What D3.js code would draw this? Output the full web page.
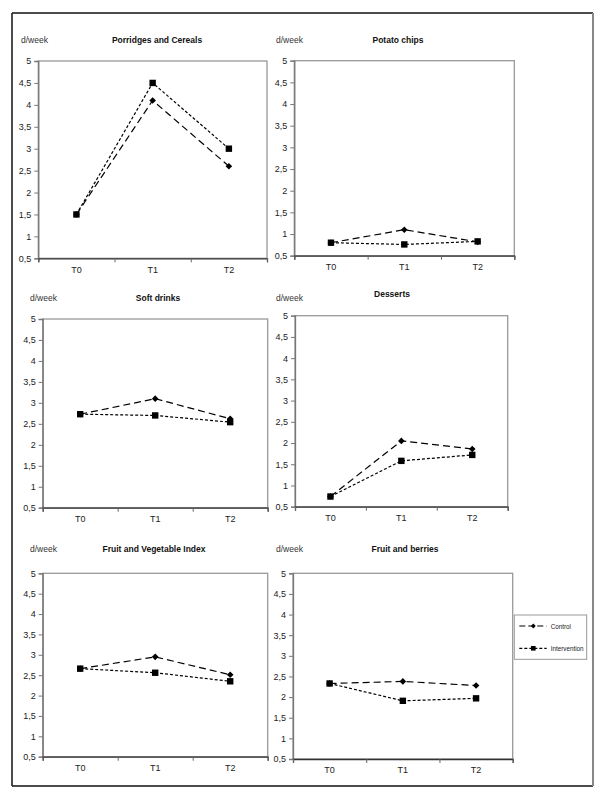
<!DOCTYPE html>
<html><head><meta charset="utf-8">
<script src="https://cdn.jsdelivr.net/npm/d3@7"></script>
<style>body{margin:0;background:#fff;} svg{display:block;font-family:"Liberation Sans",Arial,sans-serif;}</style>
</head><body>
<svg id="chart" width="600" height="800"></svg>
<script>
const titles = ["Porridges and Cereals","Potato chips","Soft drinks","Desserts","Fruit and Vegetable Index","Fruit and berries"];
const times = ["T0","T1","T2"];
const yTicks = [0.5,1,1.5,2,2.5,3,3.5,4,4.5,5];
const control = [
  [1.5,4.1,2.6],
  [0.8,1.1,0.82],
  [2.73,3.1,2.62],
  [0.74,2.05,1.86],
  [2.66,2.95,2.51],
  [2.33,2.38,2.28]
];
const intervention = [
  [1.5,4.5,3.0],
  [0.8,0.76,0.83],
  [2.73,2.7,2.54],
  [0.74,1.58,1.72],
  [2.66,2.56,2.35],
  [2.33,1.91,1.97]
];
const seriesNames = ["Control","Intervention"];

// layout (plot area boxes and label anchors)
const layout = [
  {l:38.3,r:267,t:61,b:258.3,tx:157,ty:43,ux:21,uy:43},
  {l:294.3,r:514.3,t:60.7,b:255.7,tx:398,ty:43,ux:276,uy:43},
  {l:42.7,r:267.7,t:319,b:507.7,tx:158,ty:301,ux:30,uy:301},
  {l:295,r:507.7,t:315.7,b:506.7,tx:392,ty:297,ux:276,uy:301},
  {l:42.7,r:267.7,t:573.3,b:756.7,tx:154,ty:552,ux:30,uy:552},
  {l:293,r:512.7,t:573.3,b:759,tx:405,ty:552,ux:276,uy:552}
];

const svg = d3.select("#chart");
// outer frame
svg.append("line").attr("x1",12).attr("x2",593).attr("y1",13).attr("y2",13).attr("stroke","#111").attr("stroke-width",1.5);
svg.append("line").attr("x1",12).attr("x2",12).attr("y1",13).attr("y2",786).attr("stroke","#111").attr("stroke-width",1.5);
svg.append("line").attr("x1",12).attr("x2",593).attr("y1",786).attr("y2",786).attr("stroke","#111").attr("stroke-width",1.5);
svg.append("line").attr("x1",593).attr("x2",593).attr("y1",13).attr("y2",786).attr("stroke","#888").attr("stroke-width",2);

// symbols: diamond = square rotated 45deg
const diamondPath = r => `M0,${-r}L${r},0L0,${r}L${-r},0Z`;
const squarePath = h => `M${-h},${-h}H${h}V${h}H${-h}Z`;
const styles = [
  {dash:"7,4", sym:diamondPath(3.3)},
  {dash:"3,2", sym:squarePath(3.2)}
];

titles.forEach((title,i)=>{
  const L = layout[i];
  const g = svg.append("g");
  const x = d3.scaleBand().domain(times).range([L.l,L.r]).padding(0);
  const xt = d3.scaleLinear().domain([0,3]).range([L.l,L.r]);
  const y = d3.scaleLinear().domain([0.5,5]).range([L.b,L.t]);

  // plot frame (top/right)
  g.append("rect").attr("x",L.l).attr("y",L.t).attr("width",L.r-L.l).attr("height",L.b-L.t)
    .attr("fill","#fff").attr("stroke","#999").attr("stroke-width",1.3);

  // y axis
  const ya = g.append("g").attr("transform",`translate(${L.l},0)`)
    .call(d3.axisLeft(y).tickValues(yTicks).tickSize(4).tickPadding(3)
      .tickFormat(d=>String(d).replace(".",",")));
  ya.select(".domain").attr("stroke","#777").attr("stroke-width",1.3);
  ya.selectAll(".tick line").attr("stroke","#777");
  ya.selectAll("text").attr("font-size",9).attr("fill","#222").attr("font-family","Liberation Sans, Arial, sans-serif");

  // x axis ticks at band boundaries
  const xa = g.append("g").attr("transform",`translate(0,${L.b})`)
    .call(d3.axisBottom(xt).tickValues([0,1,2,3]).tickSize(4).tickFormat(""));
  xa.select(".domain").attr("stroke","#333").attr("stroke-width",1.3);
  xa.selectAll(".tick line").attr("stroke","#666");
  const xl = g.append("g").attr("transform",`translate(0,${L.b})`)
    .call(d3.axisBottom(x).tickSize(0).tickPadding(8));
  xl.select(".domain").remove();
  xl.selectAll("text").attr("font-size",9).attr("fill","#222").attr("font-family","Liberation Sans, Arial, sans-serif");

  // titles
  g.append("text").attr("x",L.tx).attr("y",L.ty).attr("text-anchor","middle")
    .attr("font-size",8.5).attr("font-weight","bold").attr("fill","#111").text(title);
  g.append("text").attr("x",L.ux).attr("y",L.uy).attr("font-size",8.5).attr("fill","#333").text("d/week");

  // series
  const cx = t=>x(t)+x.bandwidth()/2;
  [control[i], intervention[i]].forEach((vals,s)=>{
    const line = d3.line().x((d,k)=>cx(times[k])).y(d=>y(d));
    g.append("path").datum(vals).attr("d",line).attr("fill","none")
      .attr("stroke","#000").attr("stroke-width",1.2).attr("stroke-dasharray",styles[s].dash);
  });
  [control[i], intervention[i]].forEach((vals,s)=>{
    g.selectAll(null).data(vals).enter().append("path")
      .attr("d",styles[s].sym).attr("transform",(d,k)=>`translate(${cx(times[k])},${y(d)})`)
      .attr("fill","#000");
  });
});

// legend
const lg = svg.append("g");
lg.append("rect").attr("x",514.3).attr("y",615).attr("width",72.4).attr("height",44.3)
  .attr("fill","#fff").attr("stroke","#999").attr("stroke-width",1);
seriesNames.forEach((n,s)=>{
  const ly = 626 + s*22.3;
  lg.append("line").attr("x1",519.3).attr("x2",546.7).attr("y1",ly).attr("y2",ly)
    .attr("stroke","#000").attr("stroke-width",1.2).attr("stroke-dasharray",s===0?"6,3":"3,2");
  lg.append("path").attr("d",s===0?diamondPath(2.4):squarePath(2.3))
    .attr("transform",`translate(533.3,${ly})`).attr("fill","#000");
  lg.append("text").attr("x",550.7).attr("y",ly+2.5).attr("font-size",6.3).attr("fill","#222").text(n);
});
</script>
</body></html>
